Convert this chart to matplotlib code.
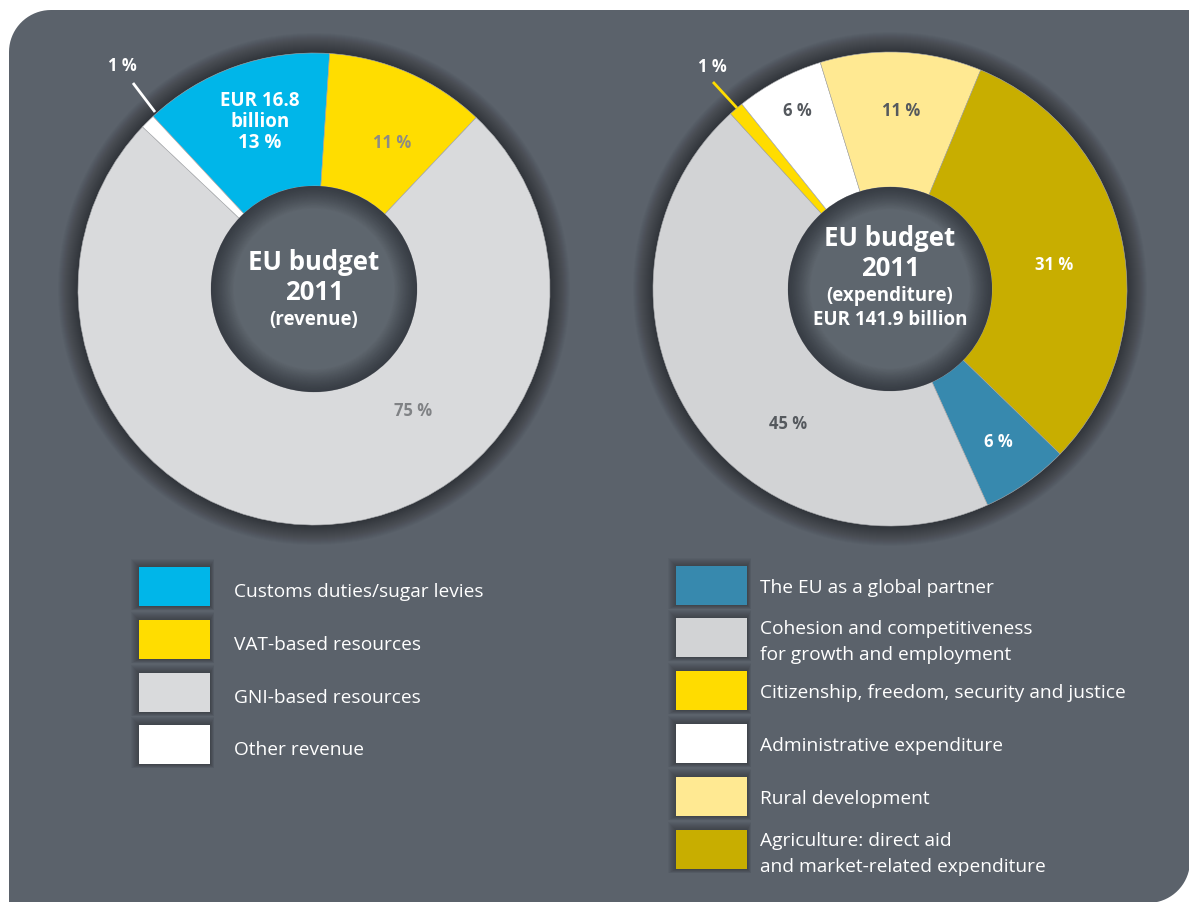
"""EU budget 2011: revenue and expenditure donuts with legends."""

import numpy as np
import matplotlib
matplotlib.use("Agg")
import matplotlib.pyplot as plt
from matplotlib.patches import Circle, PathPatch, Rectangle, FancyBboxPatch
from matplotlib.path import Path

W, H = 1189, 902
BG = "#5b626b"
FONT = ["Open Sans", "DejaVu Sans"]

# revenue (clockwise from the blue slice)
rev_labels = ["Customs duties/sugar levies", "VAT-based resources",
              "GNI-based resources", "Other revenue"]
rev_values = [13, 11, 75, 1]
rev_colors = ["#00b6e9", "#ffdd00", "#d9dadc", "#ffffff"]

# expenditure (clockwise from the teal slice)
exp_labels = ["The EU as a global partner",
              "Cohesion and competitiveness\nfor growth and employment",
              "Citizenship, freedom, security and justice",
              "Administrative expenditure", "Rural development",
              "Agriculture: direct aid\nand market-related expenditure"]
exp_values = [6, 45, 1, 6, 11, 31]
exp_colors = ["#3789ae", "#d2d3d5", "#ffdc00", "#ffffff", "#ffe992", "#c8ae00"]


def Y(y):
    # image rows -> data y
    return H - y


def panel_path(x0, y0, x1, y1, r):
    # rounded top-left and bottom-right corners only
    pts = []
    t = np.linspace(np.pi, np.pi / 2, 20)
    pts += [(x0 + r + r * np.cos(a), Y(y0 + r) + r * np.sin(a)) for a in t]
    pts.append((x1, Y(y0)))
    t = np.linspace(0, -np.pi / 2, 20)
    pts += [(x1 - r + r * np.cos(a), Y(y1 - r) + r * np.sin(a)) for a in t]
    pts.append((x0, Y(y1)))
    pts.append(pts[0])
    return Path(pts)


def soft_shadow(ax, cx, cy, r, spread=20):
    for k in range(spread, 0, -1):
        ax.add_patch(Circle((cx, Y(cy)), r + k, color="black",
                            alpha=0.022, lw=0, zorder=1))


def hole(ax, cx, cy, r):
    # darker rim fading to the background in the middle
    n = 24
    for i in range(n):
        f = i / (n - 1)
        c = np.array([0.22, 0.24, 0.27]) * (1 - f) + np.array([0.37, 0.40, 0.43]) * f
        ax.add_patch(Circle((cx, Y(cy)), r * (1 - 0.22 * f ** 0.8), color=c,
                            lw=0, zorder=4))


def donut(ax, values, colors, cx, cy, r_out, r_in, start):
    soft_shadow(ax, cx, cy, r_out)
    ax.pie(values, colors=colors, startangle=start, counterclock=False,
           radius=r_out, center=(cx, Y(cy)), frame=True,
           wedgeprops=dict(width=r_out - r_in, edgecolor="#a9abae",
                           linewidth=0.4, zorder=3))
    hole(ax, cx, cy, r_in)


def txt(ax, x, y, s, size=12, color="white", weight="bold", **kw):
    ax.text(x, Y(y), s, fontsize=size, color=color, fontweight=weight,
            ha="center", va="center", family=FONT, zorder=6, **kw)


fig = plt.figure(figsize=(W / 100, H / 100), dpi=100)
fig.patch.set_facecolor("white")
ax = fig.add_axes([0, 0, 1, 1])

ax.add_patch(PathPatch(panel_path(9, 10, W + 1, H + 1, 42), facecolor=BG,
                       edgecolor="none", zorder=0))

donut(ax, rev_values, rev_colors, 314, 289, 236, 103, 133)
donut(ax, exp_values, exp_colors, 890, 289, 237, 102, -44.1)

# revenue labels
txt(ax, 122, 66, "1 %", 12)
ax.plot([133, 155], [Y(83), Y(112)], color="white", lw=2, zorder=5,
        solid_capstyle="butt")
txt(ax, 260, 122, "EUR 16.8\nbillion\n13 %", 13.5, linespacing=1.1)
txt(ax, 392, 143, "11 %", 12, color="#8c8b86")
txt(ax, 413, 411, "75 %", 12, color="#808285")
txt(ax, 314, 262, "EU budget", 18.5)
txt(ax, 314, 293, "2011", 18.5)
txt(ax, 314, 320, "(revenue)", 13.5)

# expenditure labels
txt(ax, 712, 67, "1 %", 12)
ax.plot([713, 737], [Y(82), Y(108)], color="#ffdc00", lw=2, zorder=5,
        solid_capstyle="butt")
txt(ax, 797, 111, "6 %", 12, color="#55595e")
txt(ax, 901, 111, "11 %", 12, color="#55595e")
txt(ax, 1054, 265, "31 %", 12)
txt(ax, 998, 442, "6 %", 12)
txt(ax, 788, 424, "45 %", 12, color="#55595e")
txt(ax, 890, 239, "EU budget", 18.5)
txt(ax, 890, 268, "2011", 18.5)
txt(ax, 890, 296, "(expenditure)", 13.5)
txt(ax, 890, 320, "EUR 141.9 billion", 13.5)


def legend_box(ax, x, y, color):
    for k in range(8, 0, -1):
        ax.add_patch(Rectangle((x - k, Y(y + 39) - k * 0.5), 71 + k * 1.5,
                               39 + k * 1.5, color="black", alpha=0.035,
                               lw=0, zorder=1))
    ax.add_patch(Rectangle((x, Y(y + 39)), 71, 39, facecolor=color,
                           edgecolor="none", zorder=2))


rev_box_y = [567, 620, 673, 725]
for lab, col, by in zip(rev_labels, rev_colors, rev_box_y):
    legend_box(ax, 139, by, col)
    ax.text(234, Y(by + 25), lab, fontsize=13.8, color="white",
            family=FONT, va="center", ha="left", zorder=6)

exp_box_y = [566, 618, 671, 724, 777, 830]
for lab, col, by in zip(exp_labels, exp_colors, exp_box_y):
    legend_box(ax, 676, by, col)
    ax.text(760, Y(by + 22 + (2 if "\n" in lab else 0)), lab, fontsize=13.8,
            color="white", family=FONT, va="center", ha="left", zorder=6,
            linespacing=1.5)

ax.set_xlim(0, W)
ax.set_ylim(0, H)
ax.set_aspect("auto")
ax.axis("off")

fig.savefig("out.png", dpi=100, facecolor=fig.get_facecolor())
